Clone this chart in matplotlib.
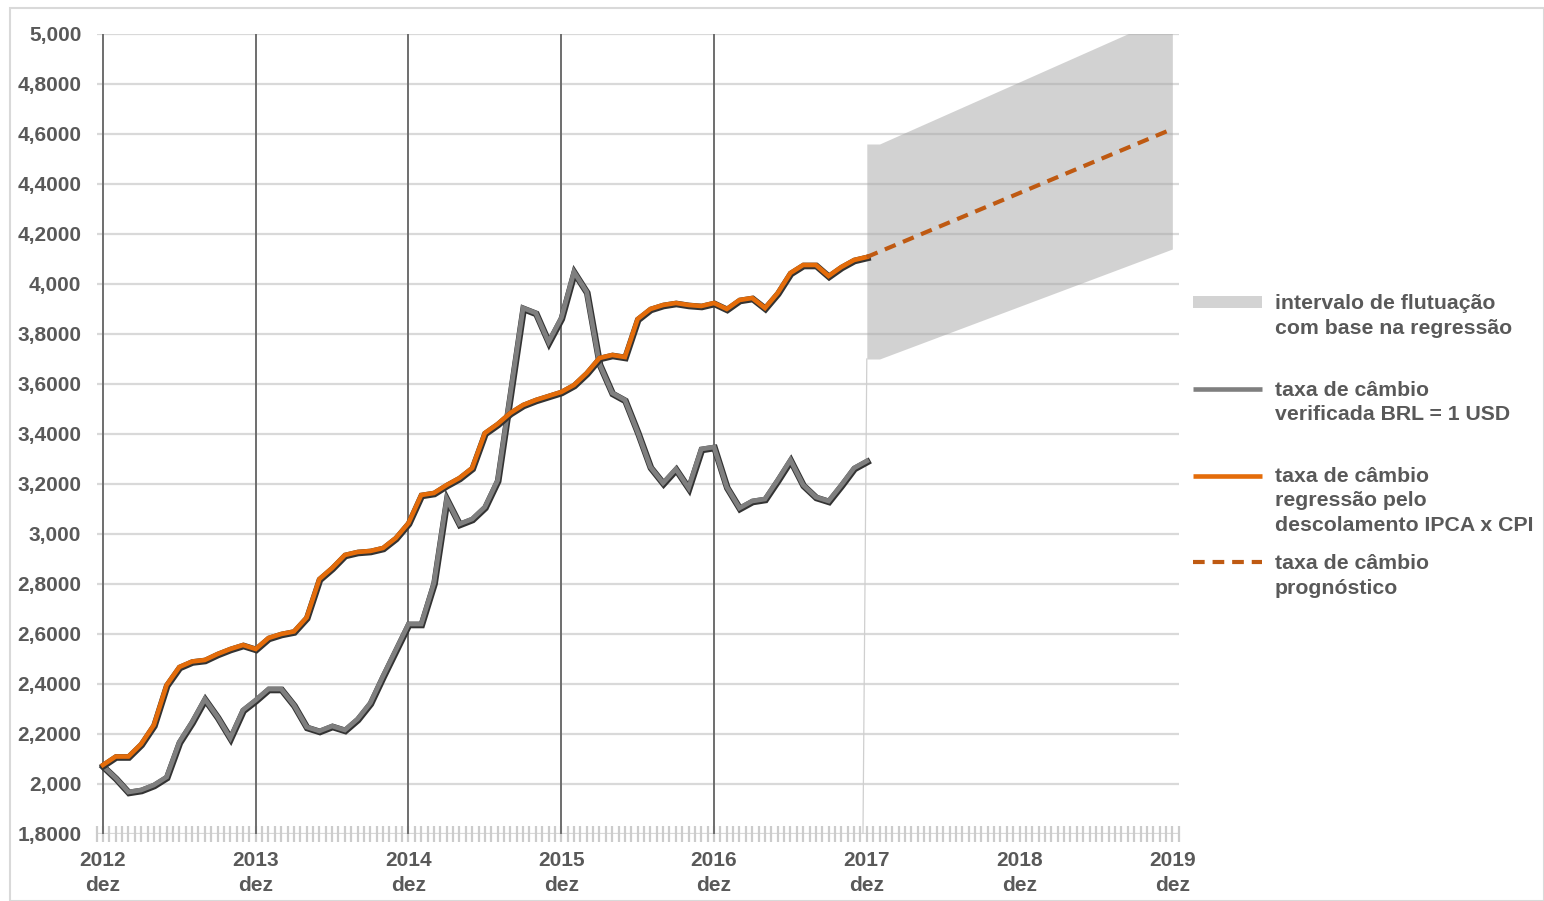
import numpy as np
import matplotlib
matplotlib.use("Agg")
import matplotlib.pyplot as plt
import matplotlib.patheffects as pe
from matplotlib.patches import Rectangle

plt.rcParams['font.family'] = ['Liberation Sans', 'DejaVu Sans']
plt.rcParams['font.weight'] = 'bold'

# taxa de câmbio verificada BRL = 1 USD, mensal, dez/2012 .. dez/2017
cambio_verificado = [
    2.072, 2.024, 1.968, 1.976, 1.996, 2.028, 2.168, 2.248, 2.340, 2.268, 2.184, 2.296,
    2.336, 2.380, 2.380, 2.316, 2.228, 2.212, 2.232, 2.216, 2.260, 2.324, 2.432, 2.536,
    2.640, 2.640, 2.804, 3.140, 3.040, 3.060, 3.108, 3.215, 3.560, 3.904, 3.884, 3.768,
    3.864, 4.048, 3.968, 3.680, 3.564, 3.536, 3.408, 3.268, 3.204, 3.260, 3.184, 3.340,
    3.348, 3.188, 3.104, 3.132, 3.140, 3.216, 3.296, 3.196, 3.148, 3.132, 3.196, 3.264,
    3.292,
]
# taxa de câmbio pela regressão (descolamento IPCA x CPI)
cambio_regressao = [
    2.076, 2.110, 2.110, 2.160, 2.236, 2.396, 2.468, 2.490, 2.496, 2.520, 2.540, 2.556,
    2.540, 2.584, 2.600, 2.610, 2.666, 2.820, 2.864, 2.916, 2.928, 2.932, 2.944, 2.984,
    3.044, 3.156, 3.164, 3.196, 3.224, 3.264, 3.404, 3.440, 3.484, 3.516, 3.536, 3.552,
    3.568, 3.596, 3.644, 3.704, 3.716, 3.708, 3.860, 3.900, 3.916, 3.924, 3.916, 3.912,
    3.924, 3.900, 3.936, 3.944, 3.904, 3.964, 4.044, 4.076, 4.076, 4.032, 4.068, 4.096,
    4.108,
]
# prognóstico (dez/2017 -> dez/2019) e intervalo de flutuação
prog_meses = [60, 84]
prog_valores = [4.108, 4.620]
faixa_meses = [60, 61, 84]
faixa_inferior = [3.70, 3.70, 4.14]
faixa_superior = [4.56, 4.56, 5.08]

anos = ['2012', '2013', '2014', '2015', '2016', '2017', '2018', '2019']
y_ticks = [1.8, 2.0, 2.2, 2.4, 2.6, 2.8, 3.0, 3.2, 3.4, 3.6, 3.8, 4.0, 4.2, 4.4, 4.6, 4.8, 5.0]
y_labels = ['1,8000', '2,000', '2,2000', '2,4000', '2,6000', '2,8000', '3,000', '3,2000',
            '3,4000', '3,6000', '3,8000', '4,000', '4,2000', '4,4000', '4,6000', '4,8000', '5,000']

meses = np.arange(len(cambio_verificado))
texto = '#595959'
laranja = '#E46C0A'
cinza = '#7F7F7F'
marrom = '#BF5A12'

W, H = 1544, 901
fig = plt.figure(figsize=(W / 100, H / 100), dpi=100)
x0, x1 = 96.6, 1178.7
y0, y1 = 834, 34
ax = fig.add_axes([x0 / W, (H - y0) / H, (x1 - x0) / W, (y0 - y1) / H])

ax.set_xlim(-0.5, 84.5)
ax.set_ylim(1.8, 5.0)

# linhas de grade horizontais
for v in y_ticks:
    ax.axhline(v, color='#D9D9D9', lw=1.6, zorder=1)
# linhas verticais escuras nos dezembros com dados completos
for m in range(0, 60, 12):
    ax.axvline(m, color='#6E6E6E', lw=1.4, zorder=2)

# intervalo de flutuação
ax.fill_between(faixa_meses, faixa_inferior, faixa_superior, color='#A6A6A6', alpha=0.5,
                lw=0, zorder=3)
ax.plot([59.7, 60], [1.8, faixa_inferior[0]], color='#CFCFCF', lw=0.9, zorder=3)

sombra = [pe.Stroke(linewidth=4.8, foreground='#333333', offset=(0.4, -0.7)), pe.Normal()]
ax.plot(meses, cambio_verificado, color=cinza, lw=3.4, zorder=5, solid_joinstyle='miter',
        path_effects=sombra)
ax.plot(meses, cambio_regressao, color=laranja, lw=3.3, zorder=6, solid_joinstyle='miter',
        path_effects=sombra)
ax.plot(prog_meses, prog_valores, color=marrom, lw=3.0, ls=(0, (2.8, 1.9)), zorder=6)

for s in ax.spines.values():
    s.set_visible(False)

ax.set_yticks(y_ticks)
ax.set_yticklabels(y_labels)
ax.tick_params(axis='y', length=0, pad=11, labelsize=15, labelcolor=texto)

ax.set_xticks(np.arange(0, 85, 12))
ax.set_xticklabels([f'{a}\ndez' for a in anos], linespacing=1.4)
ax.set_xticks(np.arange(-0.5, 84.6, 0.5), minor=True)
ax.tick_params(axis='x', which='both', direction='inout', length=11, width=1.6,
               color='#CCCCCC', labelsize=15, labelcolor=texto, pad=7)

# moldura externa
fig.add_artist(Rectangle((10 / W, 0), 1 - 10 / W, (H - 8) / H, transform=fig.transFigure,
                         fill=False, edgecolor='#D9D9D9', lw=1.5))

# legenda (coordenadas em pixels)
lg = fig.add_axes([0, 0, 1, 1], zorder=10)
lg.set_xlim(0, W)
lg.set_ylim(H, 0)
lg.axis('off')
lg.patch.set_alpha(0)

hx0, hx1, tx = 1193, 1262, 1275
lg.add_patch(Rectangle((hx0, 296), hx1 - hx0, 12, color='#D3D3D3', lw=0))
lg.plot([hx0, hx1], [389, 389], color=cinza, lw=3.3, solid_capstyle='butt')
lg.plot([hx0, hx1], [476, 476], color=laranja, lw=3.3, solid_capstyle='butt')
lg.plot([hx0, hx1], [562, 562], color=marrom, lw=3.0, ls=(0, (2.8, 1.9)))

itens = [
    (302, ['intervalo de flutuação', 'com base na regressão']),
    (389, ['taxa de câmbio', 'verificada BRL = 1 USD']),
    (475, ['taxa de câmbio', 'regressão pelo', 'descolamento IPCA x CPI']),
    (562, ['taxa de câmbio', 'prognóstico']),
]
for y, linhas in itens:
    for k, linha in enumerate(linhas):
        lg.text(tx, y + 24.5 * k + 7, linha, fontsize=15.3, color=texto, va='baseline',
                ha='left')

fig.savefig('out.png', dpi=100)
